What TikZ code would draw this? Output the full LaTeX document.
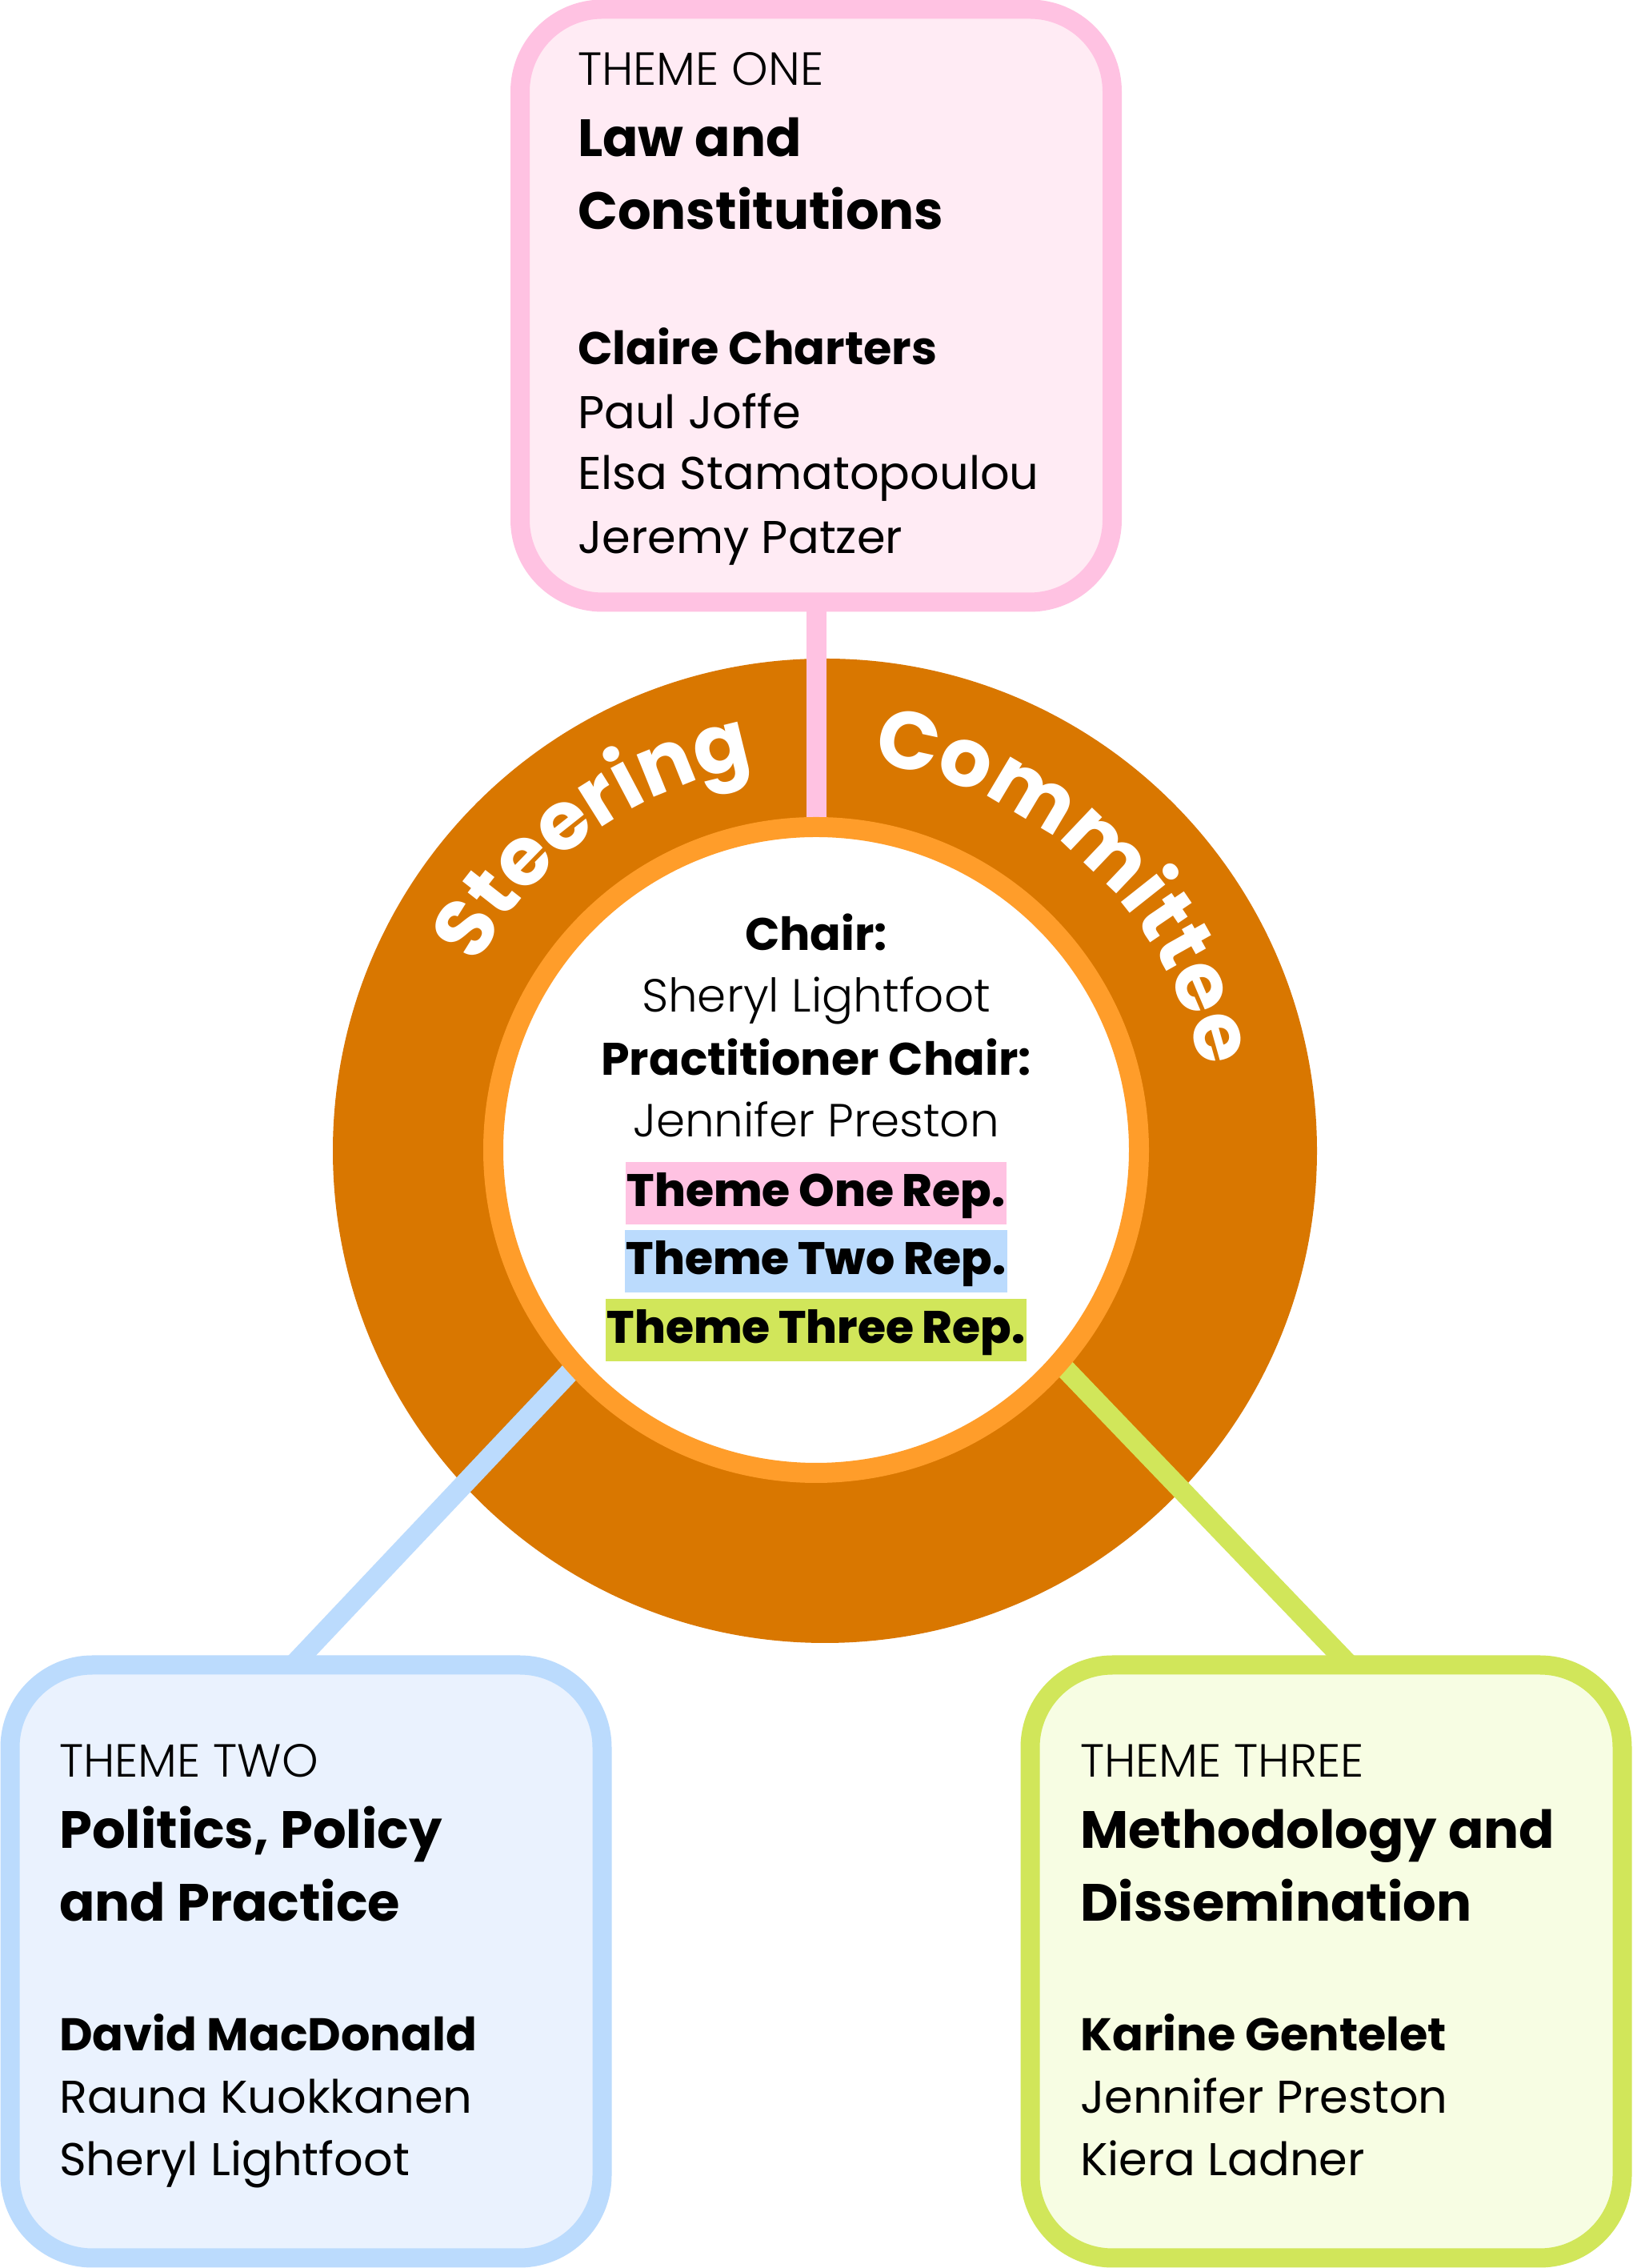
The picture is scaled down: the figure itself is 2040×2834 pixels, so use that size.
\documentclass[tikz,border=0pt]{standalone}
\usepackage{fontspec}
\setmainfont{Poppins}
\newfontfamily\plight{Poppins Light}
\newfontfamily\pxbold{Poppins ExtraBold}
\usetikzlibrary{decorations.text}
\definecolor{pinkB}{HTML}{FFC2E2}
\definecolor{pinkF}{HTML}{FFEBF4}
\definecolor{blueB}{HTML}{BBDBFD}
\definecolor{blueF}{HTML}{EAF2FE}
\definecolor{greenB}{HTML}{D1E65A}
\definecolor{greenF}{HTML}{F7FDE3}
\definecolor{ringD}{HTML}{D97700}
\definecolor{ringL}{HTML}{FF9D2A}
\newcommand\pfs[1]{\fontsize{#1}{#1}\selectfont}
\begin{document}
\begin{tikzpicture}[x=1pt,y=1pt,
  themebox/.style={draw=#1B, fill=#1F, line width=24pt, rounded corners=103pt,
    minimum width=740pt, minimum height=741pt, inner sep=0pt, outer sep=0pt},
  lbl/.style={anchor=base west, inner sep=0pt, font=\pfs{58}\plight},
  ttl/.style={anchor=base west, inner sep=0pt, font=\pfs{65.5}\bfseries},
  nm/.style={anchor=base west, inner sep=0pt, font=\pfs{57.4}},
  nmb/.style={anchor=base west, inner sep=0pt, font=\pfs{57.3}\bfseries},
  ctrb/.style={anchor=base, inner sep=0pt, font=\pfs{57}\bfseries},
  ctrn/.style={anchor=base, inner sep=0pt, font=\pfs{58}\plight},
  rep/.style={fill=#1, anchor=base, inner xsep=2pt, inner ysep=0pt,
    text height=56pt, text depth=22pt, font=\pfs{56.8}\pxbold},
  conn/.style={line width=25pt, draw=#1},
  arctext/.style={decorate, decoration={text along path,
    text={|\pfs{102}\bfseries\color{white}|#1}, text align=center}},
]
\useasboundingbox (0,0) rectangle (2040,2834);
\fill[white] (0,0) rectangle (2040,2834);

% outer ring
\node[circle, fill=ringD, minimum size=1230pt, inner sep=0pt] (outer) at (1031,1396) {};
\coordinate (ctr) at (1025,1397);
\path[arctext=Steering] (ctr) ++(152:487) arc[start angle=152, end angle=99.5, radius=487];
\path[arctext=Committee] (ctr) ++(81:487) arc[start angle=81, end angle=13.4, radius=487];

% theme boxes
\node[themebox=pink] (one) at (1020,2452) {};
\node[themebox=blue] (two) at (382.5,383) {};
\node[themebox=green] (three) at (1657.5,383) {};

% connectors
\coordinate (pinkend) at (1020,1700);
\coordinate (bluefoot) at (367,754);
\coordinate (blueend) at (760,1170);
\coordinate (greenfoot) at (1686,754);
\coordinate (greenend) at (1282,1175);
\draw[conn=pinkB] (one.south) -- (pinkend);
\draw[conn=blueB] (bluefoot) -- (blueend);
\draw[conn=greenB] (greenfoot) -- (greenend);

% inner circle
\node[circle, draw=ringL, fill=white, line width=25pt, minimum size=807pt, inner sep=0pt] (inner) at (1020,1397) {};

% centre text
\node[ctrb] (chair) at (1020,1646) {Chair:};
\node[ctrn] (chairn) at (1020,1569) {Sheryl Lightfoot};
\node[ctrb] (pchair) at (1020,1490) {Practitioner Chair:};
\node[ctrn] (pchairn) at (1020,1413) {Jennifer Preston};
\node[rep=pinkB] (rep1) at (1020,1326) {Theme One Rep.};
\node[rep=blueB] (rep2) at (1020,1241) {Theme Two Rep.};
\node[rep=greenB] (rep3) at (1020,1155) {Theme Three Rep.};

% theme one text
\node[lbl] (t1a) at (722,2727) {THEME ONE};
\node[ttl] (t1b) at (722,2638) {Law and};
\node[ttl] (t1c) at (722,2547) {Constitutions};
\node[nmb] (t1d) at (722,2378) {Claire Charters};
\node[nm] (t1e) at (722,2298) {Paul Joffe};
\node[nm] (t1f) at (722,2222) {Elsa Stamatopoulou};
\node[nm] (t1g) at (722,2142) {Jeremy Patzer};

% theme two text
\node[lbl] (t2a) at (74,613) {THEME TWO};
\node[ttl] (t2b) at (74,524) {Politics, Policy};
\node[ttl] (t2c) at (74,433) {and Practice};
\node[nmb] (t2d) at (74,271) {David MacDonald};
\node[nm] (t2e) at (74,193) {Rauna Kuokkanen};
\node[nm] (t2f) at (74,115) {Sheryl Lightfoot};

% theme three text
\node[lbl] (t3a) at (1350,613) {THEME THREE};
\node[ttl] (t3b) at (1350,524) {Methodology and};
\node[ttl] (t3c) at (1350,433) {Dissemination};
\node[nmb] (t3d) at (1350,271) {Karine Gentelet};
\node[nm] (t3e) at (1350,193) {Jennifer Preston};
\node[nm] (t3f) at (1350,115) {Kiera Ladner};
\end{tikzpicture}
\end{document}
